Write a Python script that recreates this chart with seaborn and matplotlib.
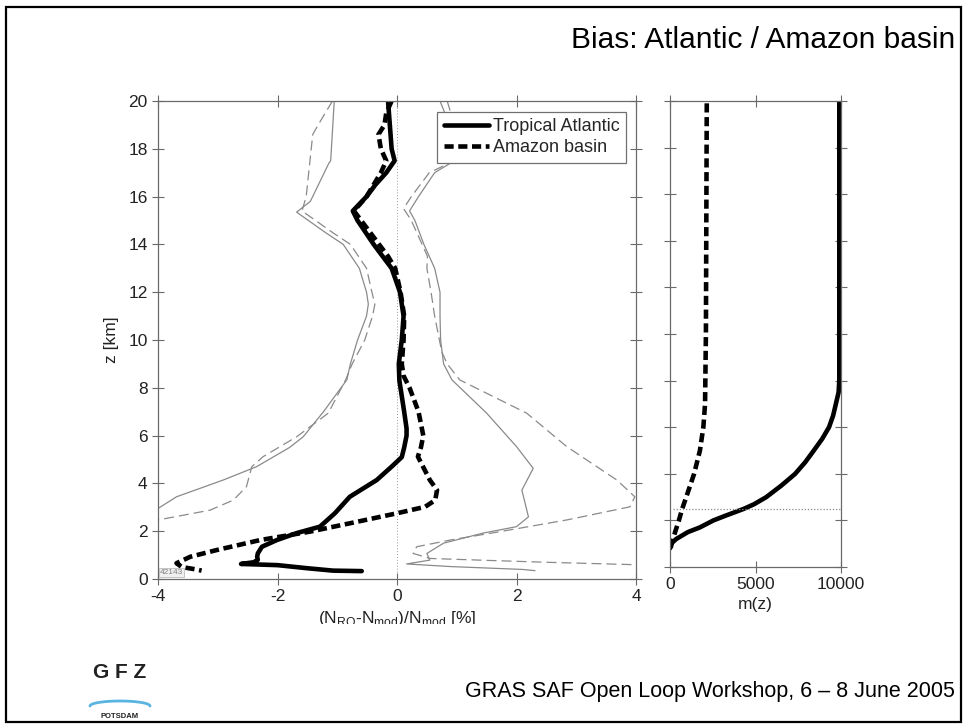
import numpy as np
import pandas as pd
import matplotlib
matplotlib.use("Agg")
import matplotlib.pyplot as plt
import seaborn as sns
from matplotlib.patches import Rectangle
from matplotlib.lines import Line2D
from matplotlib.transforms import Bbox, TransformedBbox

# ---------------- data ----------------
# Tropical Atlantic mean bias (thick solid)
atl_z = [20, 19, 18, 17.5, 17, 16.5, 16, 15.4, 15, 14, 13.5, 13, 12, 11, 10, 9, 8.3, 7, 6.3, 6,
         5.5, 5.1, 4.7, 4.14, 3.44, 2.75, 2.19, 1.92, 1.63, 1.35, 1.07, 0.93, 0.8, 0.7, 0.63,
         0.58, 0.45, 0.35, 0.33]
atl_x = [-0.15, -0.12, -0.09, -0.04, -0.18, -0.36, -0.51, -0.74, -0.66, -0.39, -0.24, -0.09, 0.05,
         0.11, 0.08, 0.03, 0.04, 0.12, 0.16, 0.16, 0.12, 0.08, -0.09, -0.34, -0.79, -1.04, -1.29,
         -1.68, -2.01, -2.26, -2.33, -2.34, -2.33, -2.4, -2.61, -2.0, -1.5, -1.07, -0.59]

# Amazon basin mean bias (thick dashed)
ama_z = [20, 19.5, 19, 18.6, 18, 17.5, 17, 16, 15.4, 15, 14, 13.5, 13, 12, 11, 10, 9, 8.5, 8, 7,
         6, 5.5, 5.12, 4.14, 3.72, 3.3, 3.02, 2.75, 2.33, 1.98, 1.63, 1.21, 0.93, 0.66, 0.5,
         0.4, 0.35]
ama_x = [-0.09, -0.18, -0.21, -0.31, -0.27, -0.18, -0.27, -0.51, -0.72, -0.6, -0.3, -0.15, -0.03,
         0.06, 0.12, 0.11, 0.08, 0.11, 0.21, 0.36, 0.44, 0.4, 0.35, 0.55, 0.67, 0.64, 0.47, 0.0,
         -0.79, -1.46, -2.29, -3.02, -3.46, -3.69, -3.6, -3.36, -3.27]

# Tropical Atlantic standard deviation envelope (thin grey solid)
atl_lo_z = [20, 17.5, 17.4, 15.8, 15.35, 14.5, 14, 13, 12, 11.5, 11, 10, 9, 8.33, 7, 5.95, 5.5,
            4.7, 4.14, 3.44, 2.95]
atl_lo_x = [-1.05, -1.11, -1.14, -1.45, -1.68, -1.2, -0.9, -0.63, -0.51, -0.48, -0.51, -0.66,
            -0.78, -0.84, -1.23, -1.57, -1.8, -2.35, -2.91, -3.69, -4.0]
atl_hi_z = [20, 19.5, 18.5, 17.5, 17, 16, 15.4, 15, 14, 13, 12, 11, 10, 9, 8.33, 6.94, 5.54, 4.63,
            3.72, 2.6, 2.19, 1.92, 1.5, 1.07, 0.79, 0.63, 0.52, 0.4, 0.35]
atl_hi_x = [0.72, 0.8, 1.0, 0.96, 0.63, 0.36, 0.21, 0.30, 0.45, 0.63, 0.72, 0.72, 0.73, 0.78,
            0.92, 1.5, 2.0, 2.28, 2.09, 2.2, 2.0, 1.44, 0.78, 0.5, 0.55, 0.16, 0.9, 2.1, 2.31]

# Amazon basin standard deviation envelope (thin grey dashed)
ama_lo_z = [20, 19, 18.6, 16.0, 15.4, 14.5, 14, 13, 12, 11.5, 11, 10, 9, 8.33, 6.94, 5.95, 5.12,
            4.7, 3.86, 3.3, 2.88, 2.47]
ama_lo_x = [-1.08, -1.32, -1.41, -1.52, -1.59, -1.08, -0.78, -0.51, -0.42, -0.37, -0.41, -0.54,
            -0.75, -0.86, -1.15, -1.68, -2.24, -2.43, -2.52, -2.74, -3.13, -4.0]
ama_hi_z = [20, 19.5, 18.5, 17.5, 17, 16, 15.5, 15, 14, 13.5, 13, 12, 11, 10, 9.5, 9, 8.33, 6.94,
            5.54, 4.14, 3.44, 3.02, 2.47, 1.98, 1.63, 1.35, 1.07, 0.86, 0.78, 0.7, 0.6]
ama_hi_x = [0.84, 0.9, 1.05, 0.96, 0.54, 0.24, 0.11, 0.24, 0.42, 0.51, 0.5, 0.57, 0.63, 0.71, 0.75,
            0.84, 1.05, 2.17, 2.84, 3.68, 3.98, 3.9, 2.84, 1.72, 0.89, 0.33, 0.27, 0.55, 1.5,
            2.5, 3.96]

# Number of profiles m(z)
m_atl_z = [20, 8, 7.5, 7, 6.5, 6, 5.5, 5, 4.5, 4, 3.5, 3, 2.7, 2.5, 2.2, 2, 1.7, 1.5, 1.2, 1.0, 0.8]
m_atl = [9900, 9900, 9860, 9700, 9540, 9300, 8900, 8410, 7910, 7320, 6520, 5630, 4930, 4330,
         3240, 2540, 1750, 1050, 360, 60, 0]
m_ama_z = [19.9, 10, 7, 6, 5, 4, 3, 2.5, 2, 1.5, 1, 0.7]
m_ama = [2150, 2100, 2050, 1950, 1750, 1410, 950, 715, 520, 300, 100, 0]
m_ref_z = 2.5

x_ticks = [-4, -2, 0, 2, 4]
x_ticklabels = ["-4", "-2", "0", "2", "4"]
z_ticks = list(range(0, 21, 2))
m_ticks = [0, 5000, 10000]

# ---------------- figure ----------------
sns.set_theme(style="white")
plt.rcParams["font.family"] = ["Liberation Sans", "DejaVu Sans"]
plt.rcParams["axes.unicode_minus"] = False

W, H = 967, 725
fig = plt.figure(figsize=(W / 100, H / 100), dpi=100)
fig.patch.set_facecolor("white")


def fx(px):
    return px / W


def fy(py):
    return 1 - py / H


ax1 = fig.add_axes([fx(158), fy(579), fx(636) - fx(158), fy(101) - fy(579)])
ax2 = fig.add_axes([fx(670), fy(567), fx(841) - fx(670), fy(101) - fy(567)])

grey = "#8a8a8a"
spine_c = "#6a6a6a"


def draw(ax, xs, zs, **kw):
    df = pd.DataFrame({"x": xs, "z": zs})
    sns.lineplot(data=df, x="x", y="z", sort=False, estimator=None, ax=ax, **kw)


# envelopes
draw(ax1, atl_lo_x, atl_lo_z, color=grey, lw=0.9)
draw(ax1, atl_hi_x, atl_hi_z, color=grey, lw=0.9)
draw(ax1, ama_lo_x, ama_lo_z, color=grey, lw=0.9, dashes=(8, 4))
draw(ax1, ama_hi_x, ama_hi_z, color=grey, lw=0.9, dashes=(8, 4))
ax1.axvline(0, color="#9a9a9a", lw=0.7, ls=(0, (1, 2)), ymin=0.015, ymax=1)
# means
draw(ax1, atl_x, atl_z, color="black", lw=3.3, label="Tropical Atlantic")
draw(ax1, ama_x, ama_z, color="black", lw=3.3, dashes=(2, 1), label="Amazon basin")

ax1.set_xlim(-4, 4)
ax1.set_ylim(0, 20)
ax1.set_xticks(x_ticks)
ax1.set_xticklabels(x_ticklabels)
ax1.set_yticks(z_ticks)

leg_handles = [Line2D([], [], color="black", lw=3.3),
               Line2D([], [], color="black", lw=3.3, dashes=(2, 1))]
leg = ax1.legend(leg_handles, ["Tropical Atlantic", "Amazon basin"], loc="upper right",
                 bbox_to_anchor=(0.98, 0.978), borderaxespad=0, fancybox=False,
                 framealpha=1, edgecolor="#707070", fontsize=13, handlelength=2.5,
                 handletextpad=0.25, borderpad=0.35, labelspacing=0.25)
leg.get_frame().set_linewidth(0.9)

ax1.text(0.004, 0.006, "42143", transform=ax1.transAxes, fontsize=6, color="#808080",
         ha="left", va="bottom",
         bbox=dict(boxstyle="square,pad=0.1", fc="#f0f0f0", ec="#b0b0b0", lw=0.5))

ax1.set_ylabel("z [km]", fontsize=12.5, color="#222222")
ax1.yaxis.set_label_coords(-0.082, 0.5)
xl = ax1.set_xlabel(r"(N$_\mathregular{RO}$-N$_\mathregular{mod}$)/N$_\mathregular{mod}$ [%]",
                    fontsize=12.5, color="#222222", va="top")
ax1.xaxis.set_label_coords(0.5, -0.062)
xl.set_clip_on(True)
xl.set_clip_box(TransformedBbox(Bbox([[0, fy(624)], [1, 1]]), fig.transFigure))

# right panel
draw(ax2, m_atl, m_atl_z, color="black", lw=3.3)
draw(ax2, m_ama, m_ama_z, color="black", lw=3.3, dashes=(2, 1))
ax2.axhline(m_ref_z, xmin=0.02, xmax=1, color="#8a8a8a", lw=0.9, ls=(0, (1, 1.5)))
ax2.set_xlim(0, 10000)
ax2.set_ylim(0, 20)
ax2.set_xticks(m_ticks)
ax2.set_xticklabels([str(v) for v in m_ticks])
ax2.set_yticks(z_ticks)
ax2.set_yticklabels([])
ax2.set_ylabel("")
ax2.set_xlabel("m(z)", fontsize=12.5, color="#222222", va="top")
ax2.xaxis.set_label_coords(0.5, -0.064)

for ax in (ax1, ax2):
    for s in ax.spines.values():
        s.set_color(spine_c)
        s.set_linewidth(0.9)
        s.set_visible(True)
    ax.tick_params(axis="both", which="both", direction="inout", length=9, width=0.8,
                   color=spine_c, labelsize=12.5, labelcolor="#222222",
                   top=True, bottom=True, left=True, right=True, pad=3)
    ax.set_facecolor("white")
    ax.grid(False)

# slide decorations
fig.add_artist(Rectangle((fx(6), fy(722)), fx(961) - fx(6), fy(7) - fy(722),
                         transform=fig.transFigure, fill=False, ec="black", lw=1.6))
fig.text(fx(955), fy(40), "Bias: Atlantic / Amazon basin", ha="right", va="center",
         fontsize=21.5, family=["Liberation Sans Narrow", "Liberation Sans", "DejaVu Sans"],
         color="black")
fig.text(fx(955), fy(692), "GRAS SAF Open Loop Workshop, 6 \u2013 8 June 2005", ha="right",
         va="center", fontsize=15.5,
         family=["Liberation Sans Narrow", "Liberation Sans", "DejaVu Sans"], color="black")
# GFZ logo
fig.text(fx(120), fy(672), "G F Z", ha="center", va="center", fontsize=15, weight="bold",
         family=["Liberation Sans", "DejaVu Sans"], color="#222222")
t = np.linspace(0, np.pi, 40)
fig.add_artist(Line2D(fx(120 + 30 * np.cos(t)), fy(706 - 5 * np.sin(t)),
                      transform=fig.transFigure, color="#59b4e0", lw=2))
fig.text(fx(120), fy(716), "POTSDAM", ha="center", va="center", fontsize=5.5, weight="bold",
         family=["Liberation Sans", "DejaVu Sans"], color="#222222")

fig.savefig("out.png", dpi=100)
